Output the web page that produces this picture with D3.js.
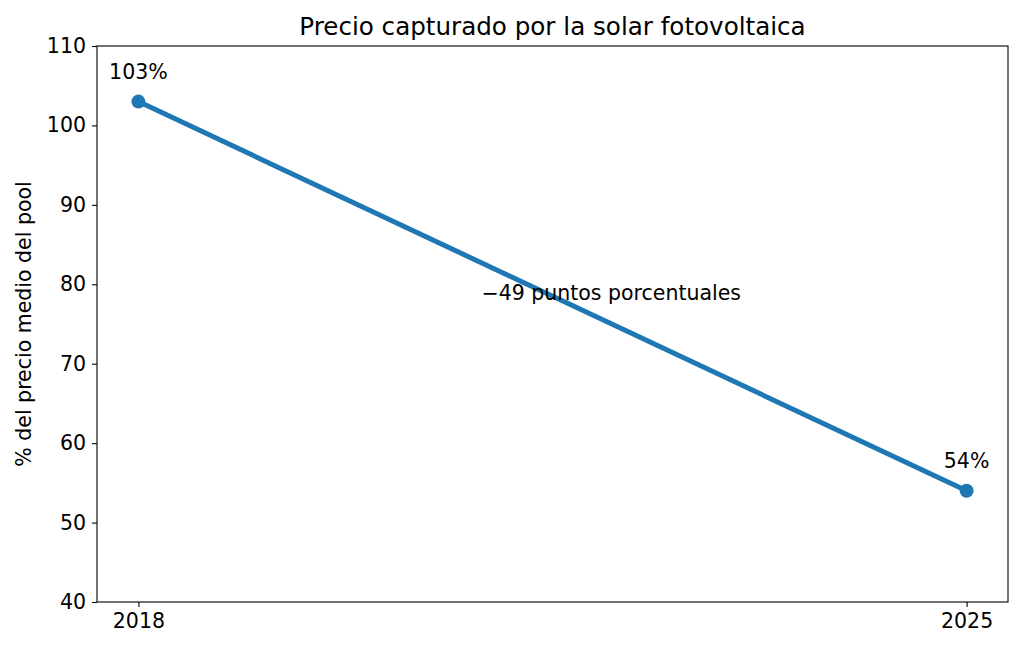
<!DOCTYPE html>
<html>
<head>
<meta charset="utf-8">
<script src="https://cdn.jsdelivr.net/npm/d3@7"></script>
<style>
  body { margin: 0; background: #fff; }
  svg text { font-family: "DejaVu Sans", sans-serif; fill: #000; }
</style>
</head>
<body>
<svg id="chart"></svg>
<script>
// Data
const years = [2018, 2025];
const capturePct = [103, 54];
const pointLabels = ['103%', '54%'];
const yTicks = [40, 50, 60, 70, 80, 90, 100, 110];
const noteText = '\u221249 puntos porcentuales';
const noteAt = [2020.9, 78];

const config = {
    width: 1024,
    height: 651,
    margin: {top: 46, right: 16, bottom: 49, left: 97},
    fontSize: 20.5
};

const width = config.width - config.margin.left - config.margin.right;
const height = config.height - config.margin.top - config.margin.bottom;

const svg = d3.select('#chart')
    .attr('width', config.width)
    .attr('height', config.height);

const chart = svg.append('g')
    .attr('transform', `translate(${config.margin.left},${config.margin.top})`);

// Scales (matplotlib-like 5% margin on x)
const pad = (years[1] - years[0]) * 0.05;
const xScale = d3.scaleLinear()
    .domain([years[0] - pad, years[1] + pad])
    .range([0, width]);

const yScale = d3.scaleLinear()
    .domain([40, 110])
    .range([height, 0]);

// Axes
const xAxis = d3.axisBottom(xScale)
    .tickValues(years)
    .tickFormat(d3.format('d'))
    .tickSize(5)
    .tickPadding(5);

const yAxis = d3.axisLeft(yScale)
    .tickValues(yTicks)
    .tickSize(5)
    .tickPadding(6);

chart.append('g')
    .attr('transform', `translate(0,${height})`)
    .call(xAxis)
    .call(g => g.select('.domain').remove())
    .call(g => g.selectAll('text').attr('font-size', config.fontSize).attr('dy', '0.8em'));

chart.append('g')
    .call(yAxis)
    .call(g => g.select('.domain').remove())
    .call(g => g.selectAll('text').attr('font-size', config.fontSize));

chart.selectAll('.tick line').attr('stroke', '#000').attr('stroke-width', 1.1);

// Frame
chart.append('rect')
    .attr('width', width)
    .attr('height', height)
    .attr('fill', 'none')
    .attr('stroke', '#000')
    .attr('stroke-width', 1.1);

const pts = years.map((y, i) => ({year: y, value: capturePct[i], label: pointLabels[i]}));

// Line
chart.append('path')
    .datum(pts)
    .attr('fill', 'none')
    .attr('stroke', '#1f77b4')
    .attr('stroke-width', 5)
    .attr('d', d3.line().x(d => xScale(d.year)).y(d => yScale(d.value)));

chart.selectAll('.point')
    .data(pts)
    .enter()
    .append('circle')
    .attr('class', 'point')
    .attr('cx', d => xScale(d.year))
    .attr('cy', d => yScale(d.value))
    .attr('r', 7)
    .attr('fill', '#1f77b4');

chart.selectAll('.plabel')
    .data(pts)
    .enter()
    .append('text')
    .attr('class', 'plabel')
    .attr('x', d => xScale(d.year))
    .attr('y', d => yScale(d.value) - 23)
    .attr('text-anchor', 'middle')
    .attr('font-size', config.fontSize)
    .text(d => d.label);

// Annotation
chart.append('text')
    .attr('x', xScale(noteAt[0]))
    .attr('y', yScale(noteAt[1]))
    .attr('font-size', config.fontSize)
    .text(noteText);

// Title
svg.append('text')
    .attr('x', config.margin.left + width / 2)
    .attr('y', 35)
    .attr('text-anchor', 'middle')
    .attr('font-size', config.fontSize * 1.2)
    .text('Precio capturado por la solar fotovoltaica');

// Y axis title
svg.append('text')
    .attr('transform', `translate(31,${config.margin.top + height / 2}) rotate(-90)`)
    .attr('text-anchor', 'middle')
    .attr('font-size', config.fontSize)
    .text('% del precio medio del pool');
</script>
</body>
</html>
